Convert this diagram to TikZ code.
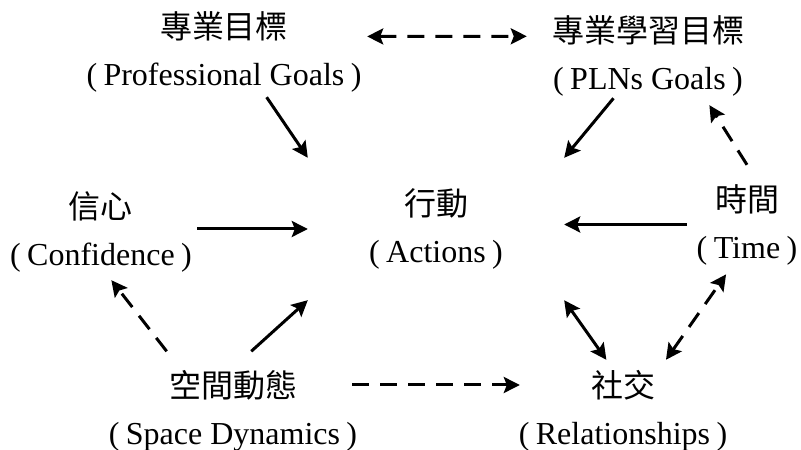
\documentclass[tikz,border=0pt]{standalone}
\usepackage{fontspec}
\setmainfont{Liberation Serif}
\newfontfamily\cjk{Noto Sans CJK TC}
\usetikzlibrary{arrows.meta}
\newcommand{\ngoac}[1]{(\hspace{.2em}#1\hspace{.2em})}

\begin{document}
\begin{tikzpicture}[x=1pt,y=1pt,
	muc/.style={align=center,inner sep=0pt,font=\fontsize{32}{47}\selectfont},
	ten/.style={line width=3pt,-{Stealth[length=16pt,width=16pt,inset=3pt]}},
	tenkep/.style={line width=3pt,{Stealth[length=16pt,width=16pt,inset=3pt]}-{Stealth[length=16pt,width=16pt,inset=3pt]}},
	net/.style={dash pattern=on 17pt off 11pt}]
			\useasboundingbox (0,0) rectangle (801,450);
			\node[muc, minimum width=286pt, minimum height=91pt] (prof) at (224,398.5) {{\cjk 專業目標}\\\ngoac{Professional Goals}};
			\node[muc, minimum width=242pt, minimum height=99pt] (plns) at (648,394.5) {{\cjk 專業學習目標}\\\ngoac{PLNs Goals}};
			\node[muc, minimum width=192pt, minimum height=97pt] (conf) at (101,218.5) {{\cjk 信心}\\\ngoac{Confidence}};
			\node[muc, minimum width=256pt, minimum height=142pt] (act) at (436,221) {{\cjk 行動}\\\ngoac{Actions}};
			\node[muc, minimum width=120pt, minimum height=119pt] (time) at (747,225.5) {{\cjk 時間}\\\ngoac{Time}};
			\node[muc, minimum width=270pt, minimum height=119pt] (space) at (233,39) {{\cjk 空間動態}\\\ngoac{Space Dynamics}};
			\node[muc, minimum width=231pt, minimum height=102pt] (rel) at (623,39) {{\cjk 社交}\\\ngoac{Relationships}};
			% muc tieu
			\draw[tenkep, net] (prof.6) -- (plns.171);
			\draw[ten] (prof.-47) -- (act.north west);
			\draw[ten, shorten <=-9pt] (plns.-129.5) -- (act.north east);
			\draw[ten, net] (time.north) -- (plns.-39.2);
			% hang ngang
			\draw[ten] (act.west -| conf.east) -- (act.west);
			\draw[ten] (time.west) -- (time.west -| act.east);
			% phia duoi
			\draw[ten, net] (space.138) -- (conf.-78);
			\draw[ten] (space.73) -- (act.south west);
			\draw[ten, net] ([shift={(-16,26)}]space.east) -- ([shift={(12.5,26)}]rel.west);
			\draw[tenkep] (act.south east) -- (rel.108);
			\draw[tenkep, net, shorten >=-12pt] (rel.50) -- (time.-115);
		\end{tikzpicture}
\end{document}
